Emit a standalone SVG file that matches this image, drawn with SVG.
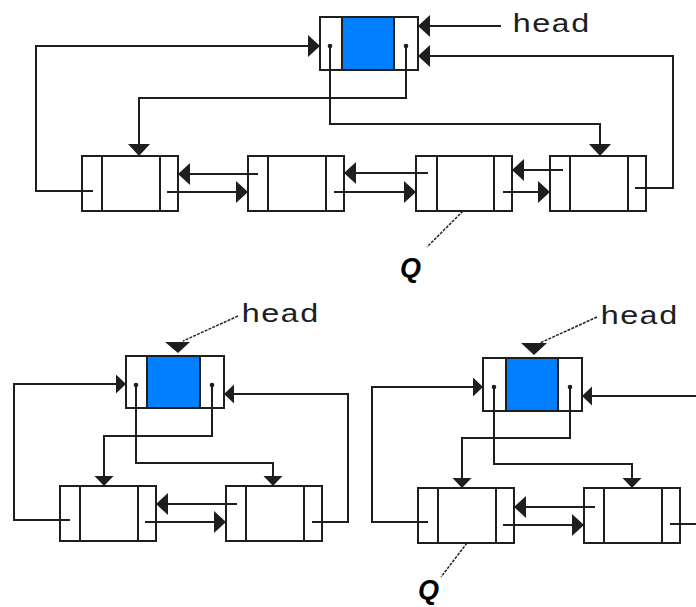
<svg xmlns="http://www.w3.org/2000/svg" width="696" height="607" viewBox="0 0 696 607">
<style>
.box{fill:#fff;stroke:#1e1e1e;stroke-width:2}
.blue{fill:#0080ff;stroke:#1e1e1e;stroke-width:2}
.div{stroke:#1e1e1e;stroke-width:2}
.ln{fill:none;stroke:#1e1e1e;stroke-width:2}
.lnb{fill:none;stroke:#1e1e1e;stroke-width:2;marker-end:url(#ab)}
.lns{fill:none;stroke:#1e1e1e;stroke-width:2;marker-end:url(#as)}
.dash{fill:none;stroke:#222;stroke-width:1.5;stroke-dasharray:3 1.2}
.dot{fill:#1e1e1e}
.ah{fill:#1e1e1e}
.lbl{font-family:"Courier New","Liberation Mono",monospace;font-size:26px;fill:#1e1e1e}
.q{font-family:"Liberation Sans",Arial,sans-serif;font-size:27px;font-weight:bold;font-style:italic;fill:#000}
</style>
<defs>
<marker id="ab" markerUnits="userSpaceOnUse" markerWidth="14" markerHeight="24" refX="12" refY="11" orient="auto" viewBox="0 0 14 24">
<path d="M0,0 L12,11 L0,22 Z" fill="#1e1e1e"/>
</marker>
<marker id="as" markerUnits="userSpaceOnUse" markerWidth="12" markerHeight="20" refX="10" refY="9.5" orient="auto" viewBox="0 0 12 20">
<path d="M0,0 L10,9.5 L0,19 Z" fill="#1e1e1e"/>
</marker>
</defs>

<!-- top diagram nodes -->
<g id="head1">
<rect class="box" x="320" y="17" width="98" height="53"/>
<rect class="blue" x="342" y="17" width="52" height="53"/>
</g>
<g id="n1">
<rect class="box" x="82" y="156" width="96" height="55"/>
<line class="div" x1="102" y1="156" x2="102" y2="211"/>
<line class="div" x1="160" y1="156" x2="160" y2="211"/>
</g>
<g id="n2">
<rect class="box" x="248" y="156" width="96" height="55"/>
<line class="div" x1="268" y1="156" x2="268" y2="211"/>
<line class="div" x1="326" y1="156" x2="326" y2="211"/>
</g>
<g id="n3">
<rect class="box" x="416" y="156" width="96" height="55"/>
<line class="div" x1="437" y1="156" x2="437" y2="211"/>
<line class="div" x1="494" y1="156" x2="494" y2="211"/>
</g>
<g id="n4">
<rect class="box" x="550" y="156" width="96" height="55"/>
<line class="div" x1="570" y1="156" x2="570" y2="211"/>
<line class="div" x1="628" y1="156" x2="628" y2="211"/>
</g>
<g id="lbl1">
<text class="lbl" x="512" y="32" textLength="78" lengthAdjust="spacingAndGlyphs">head</text>
<text class="q" x="400" y="277">Q</text>
</g>

<!-- bottom-left nodes -->
<g id="head2">
<rect class="box" x="126" y="356" width="98" height="52"/>
<rect class="blue" x="147" y="356" width="53" height="52"/>
</g>
<g id="nA">
<rect class="box" x="60" y="486" width="96" height="55"/>
<line class="div" x1="80" y1="486" x2="80" y2="541"/>
<line class="div" x1="138" y1="486" x2="138" y2="541"/>
</g>
<g id="nB">
<rect class="box" x="226" y="486" width="96" height="55"/>
<line class="div" x1="246" y1="486" x2="246" y2="541"/>
<line class="div" x1="304" y1="486" x2="304" y2="541"/>
</g>
<g id="lbl2">
<text class="lbl" x="241" y="322" textLength="78" lengthAdjust="spacingAndGlyphs">head</text>
</g>

<!-- bottom-right nodes -->
<g id="head3">
<rect class="box" x="483" y="358" width="99" height="53"/>
<rect class="blue" x="506" y="358" width="52" height="53"/>
</g>
<g id="nC">
<rect class="box" x="418" y="488" width="96" height="55"/>
<line class="div" x1="438" y1="488" x2="438" y2="543"/>
<line class="div" x1="496" y1="488" x2="496" y2="543"/>
</g>
<g id="nD">
<rect class="box" x="584" y="488" width="96" height="55"/>
<line class="div" x1="604" y1="488" x2="604" y2="543"/>
<line class="div" x1="662" y1="488" x2="662" y2="543"/>
</g>
<g id="lbl3">
<text class="lbl" x="600" y="324" textLength="78" lengthAdjust="spacingAndGlyphs">head</text>
<text class="q" x="418" y="599">Q</text>
</g>

<g id="connectors">
<!-- top diagram -->
<path class="lnb" d="M93,191 H36 V46 H320"/>
<path class="lnb" d="M330,46 V124 H600 V156"/>
<path class="lnb" d="M406,46 V98 H139 V156"/>
<path class="lnb" d="M501,26 H418"/>
<path class="lnb" d="M635,188 H673 V56 H418"/>
<path class="lnb" d="M258,174 H178"/>
<path class="lnb" d="M167,192 H248"/>
<path class="lnb" d="M428,173 H344"/>
<path class="lnb" d="M334,192 H416"/>
<path class="lnb" d="M563,170 H512"/>
<path class="lnb" d="M503,192 H550"/>
<path class="dash" d="M463,211 L427,247"/>
<circle class="dot" cx="330" cy="46" r="2.3"/>
<circle class="dot" cx="406" cy="46" r="2.3"/>

<!-- bottom-left diagram -->
<path class="lns" d="M70,520 H14 V384 H126"/>
<path class="lns" d="M312,522 H348 V394 H224"/>
<path class="lns" d="M212,385 V436 H104 V486"/>
<path class="lns" d="M136,385 V463 H273 V486"/>
<path class="lnb" d="M237,504 H156"/>
<path class="lnb" d="M145,522 H226"/>
<path class="dash" d="M238,316 L183,341"/>
<polygon class="ah" points="165,342 190,342 178,353"/>
<circle class="dot" cx="136" cy="385" r="2.3"/>
<circle class="dot" cx="212" cy="385" r="2.3"/>

<!-- bottom-right diagram -->
<path class="lns" d="M428,522 H372 V387 H483"/>
<path class="lns" d="M696,396 H582"/>
<path class="lns" d="M570,387 V438 H462 V488"/>
<path class="lns" d="M494,387 V464 H632 V488"/>
<path class="lnb" d="M595,507 H514"/>
<path class="lnb" d="M503,525 H584"/>
<path class="ln" d="M670,524 H696"/>
<path class="dash" d="M597,317 L540,343"/>
<polygon class="ah" points="521,343 547,343 534,355"/>
<path class="dash" d="M467,543 L441,577"/>
<circle class="dot" cx="494" cy="387" r="2.3"/>
<circle class="dot" cx="570" cy="387" r="2.3"/>
</g>
</svg>
